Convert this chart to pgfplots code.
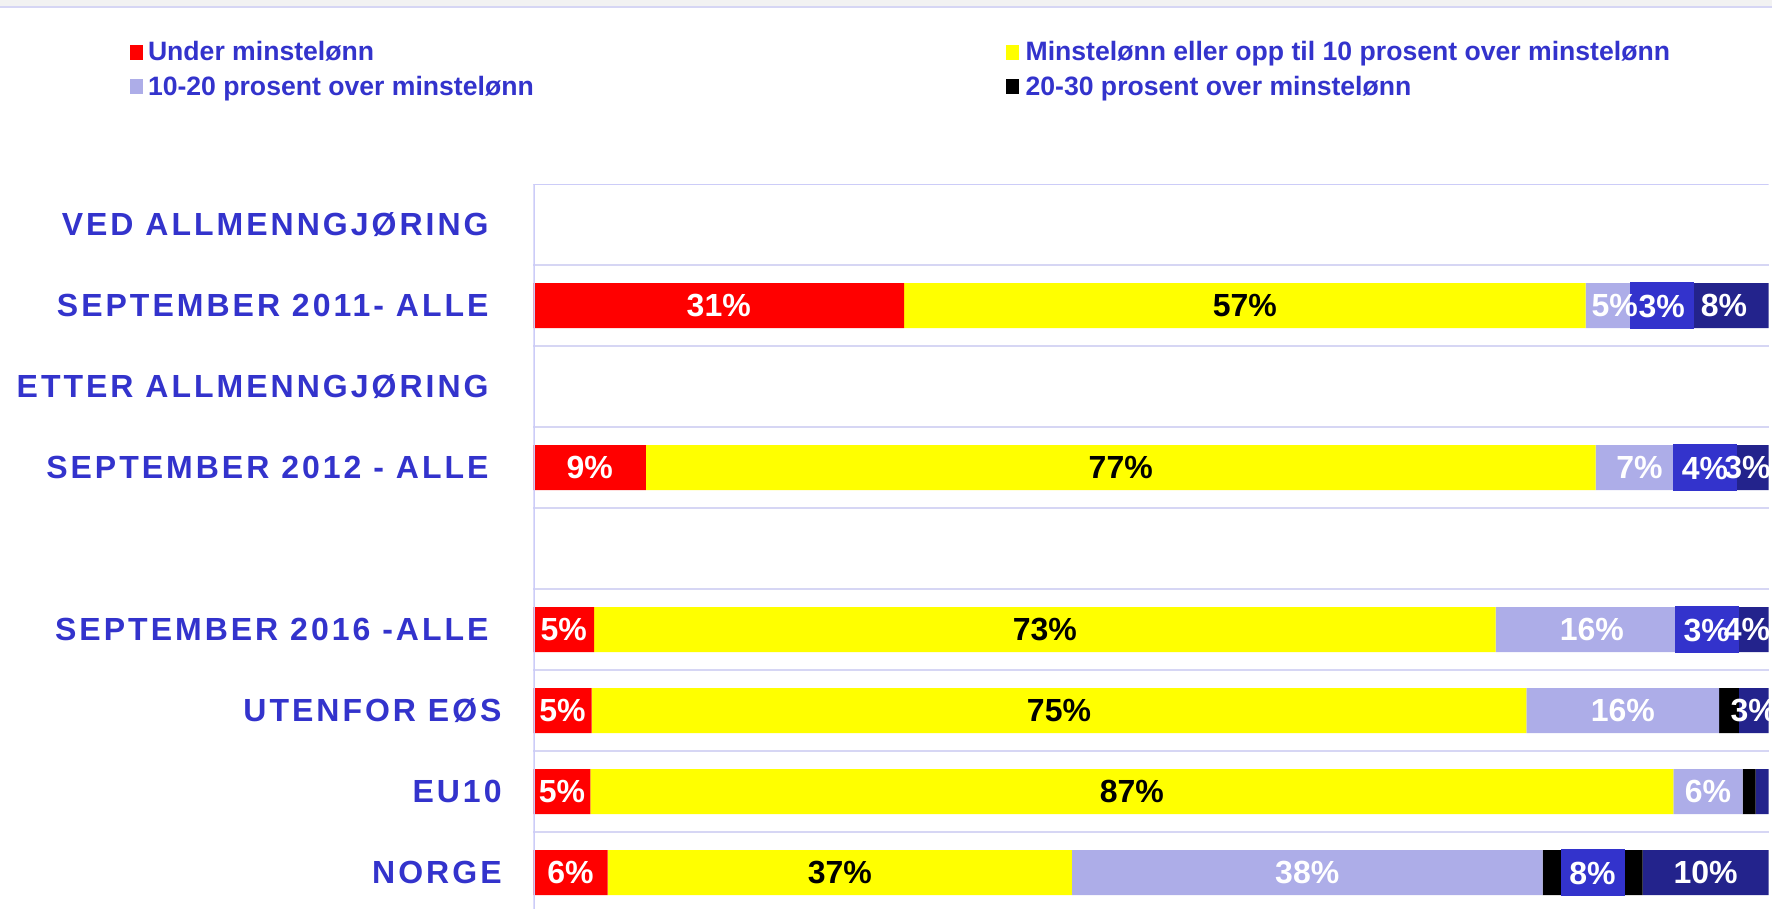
\documentclass[border=0pt]{standalone}
\usepackage{fontspec}
\setmainfont{Liberation Sans}
\newfontfamily\lsfont[LetterSpace=9.4]{Liberation Sans}
\usepackage{pgfplots}
\usepackage{pgfplotstable}
\pgfplotsset{compat=1.18}
\definecolor{txtblue}{RGB}{51,51,204}
\definecolor{lav}{RGB}{173,173,232}
\definecolor{navy}{RGB}{35,35,140}
\definecolor{gridc}{RGB}{214,214,244}
\definecolor{topgrey}{RGB}{242,242,242}
\definecolor{ylw}{RGB}{255,255,0}
\definecolor{rd}{RGB}{255,0,0}
\def\nolab{-}

\pgfplotstableread{
row red redl yel yell lav lavl blk blkl nav navl
1 30.0 31 55.2 57 4.7 5 2.9 3 7.2 8
3 9.1 9 76.9 77 7.1 7 3.5 4 3.4 3
5 4.9 5 73.0 73 15.6 16 3.0 3 3.5 4
6 4.7 5 75.7 75 15.6 16 1.6 - 2.4 3
7 4.6 5 87.7 87 5.6 6 1.05 - 1.05 -
8 6.0 6 37.6 37 38.1 38 8.1 8 10.2 10
}\datatable

\pgfplotsset{
  chartgeom/.style={
    at={(266.75pt,-92pt)}, anchor=north west,
    width=617.5pt, height=364.5pt, scale only axis,
    xbar stacked, bar width=22.5pt,
    xmin=0, xmax=100, ymin=-0.5, ymax=8.5, y dir=reverse,
  },
  labaxis/.style={chartgeom, hide axis,
    point meta=explicit symbolic,
    every node near coord/.append style={anchor=center, inner sep=0pt, font=\bfseries\fontsize{16}{19}\selectfont},
  },
  plainlab/.style={nodes near coords={\ifx\pgfplotspointmeta\nolab\else\pgfplotspointmeta\%\fi}},
}
\newcommand{\tsp}{\makebox[6.5pt]{}}

\begin{document}
\begin{tikzpicture}
\useasboundingbox (0,0) rectangle (886pt,-454.5pt);
\fill[topgrey] (0,0) rectangle (886pt,-3pt);
\fill[gridc] (0,-3pt) rectangle (886pt,-4.2pt);
\begin{axis}[chartgeom,
  xtick=\empty,
  ytick={0,...,8},
  yticklabels={VED ALLMENNGJØRING\tsp, SEPTEMBER 2011- ALLE\tsp, ETTER ALLMENNGJØRING\tsp, SEPTEMBER 2012 - ALLE\tsp, {}, SEPTEMBER 2016 -ALLE\tsp, UTENFOR EØS, EU10, NORGE},
  yticklabel style={font=\lsfont\bfseries\fontsize{16}{19}\selectfont, text=txtblue, anchor=east, inner sep=0pt, xshift=-15.75pt},
  major tick length=0pt, minor tick length=0pt,
  minor ytick={0.5,1.5,...,7.5}, yminorgrids=true,
  minor grid style={gridc, line width=0.8pt},
  axis line style={draw=none}, tick style={draw=none},
  legend columns=2,
  legend cell align=left,
  legend image code/.code={\fill[#1] (0pt,-3.75pt) rectangle (6.5pt,3.75pt);},
  legend style={at={(-0.3267,1.196)}, anchor=north west, draw=none, fill=none,
    inner sep=0pt, outer sep=0pt, row sep=6.2pt, column sep=0pt,
    nodes={inner sep=0pt, text=txtblue, font=\bfseries\fontsize{13.3}{16}\selectfont}},
]
\draw[gridc!85!blue!70!white, line width=1.1pt] (axis cs:0,-0.5) -- (axis cs:100,-0.5);
\draw[gridc!85!blue!70!white, line width=1.1pt] (axis cs:0,-0.5) -- (axis cs:0,8.6);
\addplot[fill=rd, draw=none] table[x=red, y=row]{\datatable};
\addlegendentry{\makebox[431.3pt][l]{\hspace{2.5pt}Under minstelønn}}
\addplot[fill=ylw, draw=none] table[x=yel, y=row]{\datatable};
\addlegendentry{\hspace{3.5pt}Minstelønn eller opp til 10 prosent over minstelønn}
\addplot[fill=lav, draw=none] table[x=lav, y=row]{\datatable};
\addlegendentry{\makebox[431.3pt][l]{\hspace{2.5pt}10-20 prosent over minstelønn}}
\addplot[fill=black, draw=none] table[x=blk, y=row]{\datatable};
\addlegendentry{\hspace{3.5pt}20-30 prosent over minstelønn}
\addplot[fill=navy, draw=none] table[x=nav, y=row]{\datatable};
\end{axis}

\begin{scope}
\clip (266pt,-92pt) rectangle (884.5pt,-460pt);
\begin{axis}[labaxis]
\addplot[draw=none, fill=none, plainlab, every node near coord/.append style={text=white}] table[x=red, y=row, meta=redl]{\datatable};
\addplot[draw=none, fill=none, plainlab, every node near coord/.append style={text=black}] table[x=yel, y=row, meta=yell]{\datatable};
\addplot[draw=none, fill=none, plainlab, every node near coord/.append style={text=white}] table[x=lav, y=row, meta=lavl]{\datatable};
\addplot[draw=none, fill=none,
  nodes near coords={\ifx\pgfplotspointmeta\nolab\else\setlength{\fboxsep}{0pt}\colorbox{txtblue}{\makebox[32pt]{\rule[-5.8pt]{0pt}{23.2pt}\pgfplotspointmeta\%}}\fi},
  every node near coord/.append style={text=white}] table[x=blk, y=row, meta=blkl]{\datatable};
\end{axis}
\begin{axis}[labaxis]
\addplot[draw=none, fill=none] table[x=red, y=row, meta=redl]{\datatable};
\addplot[draw=none, fill=none] table[x=yel, y=row, meta=yell]{\datatable};
\addplot[draw=none, fill=none] table[x=lav, y=row, meta=lavl]{\datatable};
\addplot[draw=none, fill=none] table[x=blk, y=row, meta=blkl]{\datatable};
\addplot[draw=none, fill=none, plainlab, every node near coord/.append style={text=white}] table[x=nav, y=row, meta=navl]{\datatable};
\end{axis}
\end{scope}
\end{tikzpicture}
\end{document}
